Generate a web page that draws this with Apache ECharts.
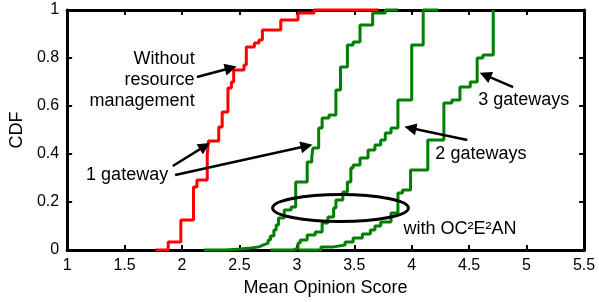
<!DOCTYPE html>
<html>
<head>
<meta charset="utf-8">
<script src="https://cdn.jsdelivr.net/npm/echarts@6/dist/echarts.min.js"></script>
<style>
  html, body { margin: 0; padding: 0; background: #fff; }
  #main { width: 599px; height: 302px; }
</style>
</head>
<body>
<div id="main"></div>
<script>
// CDF step points: [score where the step happens, CDF value after it]
var withoutMgmt = [
  [1.77, 0], [1.88, 0.033], [1.99, 0.125], [2.10, 0.263], [2.13, 0.292],
  [2.22, 0.396], [2.23, 0.454], [2.32, 0.513], [2.35, 0.575], [2.40, 0.675],
  [2.43, 0.700], [2.45, 0.750], [2.54, 0.771], [2.56, 0.846], [2.63, 0.863],
  [2.67, 0.875], [2.70, 0.917], [2.86, 0.958], [3.01, 0.988], [3.15, 1], [3.71, 1]
];
var oneGateway = [
  [2.19, 0], [2.38, 0.004], [2.51, 0.008], [2.60, 0.013], [2.67, 0.021],
  [2.71, 0.029], [2.75, 0.042], [2.77, 0.058], [2.80, 0.083], [2.82, 0.104],
  [2.84, 0.133], [2.89, 0.167], [2.95, 0.179], [2.99, 0.283], [3.09, 0.367],
  [3.13, 0.388], [3.14, 0.425], [3.19, 0.508], [3.22, 0.55], [3.28, 0.563],
  [3.34, 0.667], [3.38, 0.763], [3.44, 0.854], [3.49, 0.867], [3.55, 0.938],
  [3.66, 0.988], [3.77, 1], [3.88, 1]
];
var twoGateways = [
  [2.77, 0], [2.97, 0.008], [3.01, 0.029], [3.03, 0.042], [3.09, 0.063],
  [3.16, 0.075], [3.22, 0.113], [3.27, 0.138], [3.32, 0.175], [3.34, 0.208],
  [3.40, 0.242], [3.44, 0.283], [3.47, 0.342], [3.49, 0.354], [3.55, 0.383],
  [3.62, 0.417], [3.68, 0.438], [3.73, 0.458], [3.77, 0.488], [3.82, 0.508],
  [3.88, 0.625], [4.00, 0.854], [4.10, 1], [4.23, 1]
];
var threeGateways = [
  [3.02, 0], [3.21, 0.013], [3.32, 0.021], [3.42, 0.033], [3.49, 0.05],
  [3.57, 0.067], [3.64, 0.083], [3.68, 0.1], [3.73, 0.117], [3.82, 0.154],
  [3.88, 0.238], [3.92, 0.25], [3.99, 0.333], [4.14, 0.458], [4.28, 0.613],
  [4.35, 0.625], [4.42, 0.679], [4.51, 0.70], [4.57, 0.80], [4.62, 0.813],
  [4.71, 1]
];

// annotations, in data units
var leftLabels = [
  { text: 'Without\nresource\nmanagement', at: [2.11, 0.708] }
];
var rightLabels = [
  { text: '1 gateway', at: [1.165, 0.3125] },
  { text: '2 gateways', at: [4.206, 0.40] },
  { text: '3 gateways', at: [4.579, 0.625] },
  { text: 'with OC\u00b2E\u00b2AN', at: [3.928, 0.0875] }
];
var arrows = [
  [[2.13, 0.721], [2.425, 0.758]],
  [[1.92, 0.35], [2.199, 0.433]],
  [[1.94, 0.3125], [3.085, 0.433]],
  [[4.484, 0.458], [3.988, 0.508]],
  [[4.883, 0.679], [4.640, 0.729]]
];
// center x, center y, radius x, radius y
var ellipse = [[3.38, 0.175, 0.591, 0.056]];

var font = 'Liberation Sans, Arial, Helvetica, sans-serif';

function axisX(pos, showLabels) {
  return {
    type: 'value', min: 1, max: 5.5, interval: 0.5, position: pos,
    axisLine: { onZero: false, lineStyle: { color: '#000', width: 3 } },
    axisTick: { inside: true, length: 5, lineStyle: { color: '#000', width: 2 } },
    axisLabel: { show: showLabels, color: '#000', fontSize: 16, margin: 8, fontFamily: font },
    splitLine: { show: false }
  };
}
function axisY(pos, showLabels) {
  return {
    type: 'value', min: 0, max: 1, interval: 0.2, position: pos,
    axisLine: { onZero: false, lineStyle: { color: '#000', width: 3 } },
    axisTick: { inside: true, length: 5, lineStyle: { color: '#000', width: 2 } },
    axisLabel: { show: showLabels, color: '#000', fontSize: 16, margin: 8, fontFamily: font },
    splitLine: { show: false }
  };
}

var xBottom = axisX('bottom', true);
xBottom.name = 'Mean Opinion Score';
xBottom.nameLocation = 'middle';
xBottom.nameGap = 28;
xBottom.nameTextStyle = { color: '#000', fontSize: 18, fontFamily: font };
var yLeft = axisY('left', true);
yLeft.name = 'CDF';
yLeft.nameLocation = 'middle';
yLeft.nameGap = 40;
yLeft.nameTextStyle = { color: '#000', fontSize: 18, fontFamily: font };

function cdf(data, color) {
  return {
    type: 'line', data: data, step: 'end', symbol: 'none', clip: false,
    lineStyle: { color: color, width: 3 }, z: 3, silent: true
  };
}

function labelSeries(items, position) {
  return {
    type: 'scatter', symbolSize: 0, silent: true, z: 6,
    itemStyle: { opacity: 1 },
    data: items.map(function (d) {
      return { value: d.at, label: { formatter: d.text } };
    }),
    label: {
      show: true, position: position, distance: 0,
      align: position === 'left' ? 'right' : 'left',
      color: '#000', opacity: 1, fontSize: 18, lineHeight: 21, fontFamily: font
    }
  };
}

var myChart = echarts.init(document.getElementById('main'));
myChart.setOption({
  animation: false,
  backgroundColor: '#fff',
  grid: { left: 66, right: 15, top: 10, bottom: 52 },
  xAxis: [xBottom, axisX('top', false)],
  yAxis: [yLeft, axisY('right', false)],
  series: [
    cdf(withoutMgmt, '#ff0000'),
    cdf(oneGateway, '#008000'),
    cdf(twoGateways, '#008000'),
    cdf(threeGateways, '#008000'),
    {
      type: 'lines', coordinateSystem: 'cartesian2d', silent: true, z: 5,
      symbol: ['none', 'triangle'], symbolSize: 12,
      lineStyle: { color: '#000', width: 2.5, curveness: 0, opacity: 1 },
      itemStyle: { color: '#000' },
      data: arrows.map(function (a) { return { coords: a }; })
    },
    {
      type: 'custom', silent: true, z: 4,
      data: ellipse,
      encode: { x: 0, y: 1 },
      renderItem: function (params, api) {
        var c = api.coord([api.value(0), api.value(1)]);
        var s = api.size([api.value(2), api.value(3)]);
        return {
          type: 'ellipse',
          shape: { cx: c[0], cy: c[1], rx: s[0], ry: s[1] },
          style: { fill: 'none', stroke: '#000', lineWidth: 3 }
        };
      }
    },
    labelSeries(leftLabels, 'left'),
    labelSeries(rightLabels, 'right')
  ]
});
</script>
</body>
</html>
